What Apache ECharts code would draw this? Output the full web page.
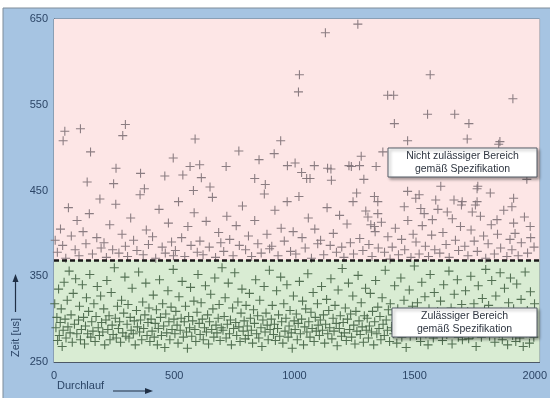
<!DOCTYPE html>
<html>
<head>
<meta charset="utf-8">
<script src="https://cdn.jsdelivr.net/npm/echarts@6/dist/echarts.min.js"></script>
<style>html,body{margin:0;padding:0;background:#fff}#c{width:550px;height:398px}</style>
</head>
<body>
<div id="c"></div>
<script>
// ---- data ----
const xTicks = [0, 500, 1000, 1500, 2000];
const yTicks = [250, 350, 450, 550, 650];
const threshold = 369; // Spezifikationsgrenze [us]

// Durchlauf / Zeit pairs inside specification
const pointsInSpec = [
[3,318],[8,290],[12,302],[15,275],[19,335],[22,281],[26,296],[30,312],[34,268],[38,287],[42,343],[46,300],[50,278],[55,322],[58,291],[63,356],[67,284],[71,305],[76,273],[80,330],[85,294],[90,347],[95,283],
[102,299],[106,315],[110,276],[114,288],[118,340],[123,302],[127,271],[131,292],[135,325],[140,283],[144,309],[149,352],[153,279],[157,297],[162,286],[166,318],[171,274],[175,303],[180,338],[184,290],[189,281],[194,327],[198,296],
[203,285],[207,312],[211,270],[216,299],[220,345],[224,288],[229,304],[233,276],[238,331],[242,293],[246,282],[251,360],[255,301],[259,278],[264,315],[268,289],[273,297],[277,273],[281,322],[286,284],[290,307],[295,349],[299,280],
[304,294],[308,317],[312,278],[317,302],[321,287],[325,336],[330,283],[334,298],[338,270],[343,310],[347,291],[352,355],[356,285],[360,299],[365,276],[369,320],[373,289],[378,305],[382,342],[387,281],[391,296],[395,313],[399,274],
[404,300],[408,286],[413,328],[417,279],[421,295],[426,311],[430,270],[434,289],[439,346],[443,302],[447,281],[452,318],[456,292],[461,267],[465,306],[469,284],[474,333],[478,297],[482,276],[487,314],[491,288],[496,358],[499,300],
[503,283],[507,309],[512,293],[516,272],[520,326],[525,287],[529,301],[533,344],[538,279],[542,297],[547,315],[551,285],[555,266],[560,303],[564,290],[568,337],[573,280],[577,298],[582,321],[586,288],[590,274],[595,308],[599,352],
[604,295],[608,282],[612,319],[617,300],[621,276],[626,290],[630,339],[634,285],[639,305],[643,271],[647,297],[652,329],[656,288],[661,312],[665,279],[669,348],[674,293],[678,284],[683,301],[687,317],[691,275],[696,290],[699,360],
[703,287],[708,303],[712,325],[716,278],[721,294],[725,342],[730,283],[734,299],[738,270],[743,313],[747,289],[752,354],[756,296],[760,281],[765,320],[769,291],[774,274],[778,307],[782,335],[787,286],[791,298],[796,277],[799,316],
[804,292],[808,281],[813,330],[817,301],[821,287],[826,272],[830,311],[834,295],[839,346],[843,283],[847,304],[852,278],[856,322],[861,290],[865,268],[869,299],[874,338],[878,285],[882,307],[887,293],[891,276],[896,357],[899,288],
[904,300],[908,316],[913,282],[917,294],[921,275],[926,333],[930,289],[934,305],[939,280],[943,349],[947,297],[952,272],[956,318],[961,286],[965,301],[969,340],[974,279],[978,292],[982,310],[987,284],[991,266],[996,327],[999,298],
[1003,288],[1008,306],[1012,276],[1016,295],[1021,344],[1025,283],[1030,300],[1034,321],[1038,270],[1043,291],[1047,312],[1052,285],[1056,353],[1060,297],[1065,279],[1069,308],[1074,289],[1078,331],[1082,274],[1087,302],[1091,286],[1096,318],[1099,293],
[1104,281],[1108,299],[1113,338],[1117,287],[1121,305],[1126,272],[1130,294],[1134,323],[1139,283],[1143,310],[1147,290],[1152,347],[1156,277],[1161,301],[1165,286],[1169,316],[1174,295],[1178,269],[1182,334],[1187,289],[1191,304],[1196,280],[1199,359],
[1203,296],[1208,284],[1212,313],[1216,275],[1221,300],[1225,342],[1230,288],[1234,306],[1238,279],[1243,327],[1247,293],[1252,271],[1256,309],[1260,286],[1265,351],[1269,298],[1274,282],[1278,319],[1282,291],[1287,273],[1291,304],[1296,336],[1299,287],
[1303,301],[1308,278],[1312,292],[1316,330],[1321,285],[1325,309],[1330,270],[1334,297],[1338,345],[1343,283],[1347,314],[1352,289],[1356,303],[1360,276],[1365,325],[1369,294],[1374,281],[1378,357],[1382,299],[1387,287],[1391,311],[1396,274],[1399,318],
[1404,290],[1408,305],[1413,283],[1417,339],[1421,296],[1426,272],[1430,312],[1434,288],[1439,301],[1443,348],[1447,279],[1452,294],[1456,322],[1461,285],[1465,267],[1469,307],[1474,291],[1478,334],[1482,280],[1487,299],[1491,315],[1496,286],[1499,362],
[1503,297],[1508,281],[1512,319],[1516,290],[1521,306],[1525,274],[1530,343],[1534,288],[1538,300],[1543,326],[1547,283],[1552,295],[1556,270],[1560,312],[1565,352],[1569,289],[1574,302],[1578,278],[1582,331],[1587,293],[1591,284],[1596,309],[1599,297],
[1603,286],[1608,321],[1612,299],[1616,275],[1621,340],[1625,291],[1630,307],[1634,282],[1638,296],[1643,356],[1647,287],[1652,313],[1656,271],[1660,300],[1665,329],[1669,285],[1674,295],[1678,346],[1682,279],[1687,304],[1691,290],[1696,317],[1699,276],
[1703,298],[1708,284],[1712,333],[1716,293],[1721,309],[1725,277],[1730,289],[1734,350],[1738,301],[1743,282],[1747,318],[1752,294],[1756,268],[1760,305],[1765,339],[1769,287],[1774,299],[1778,279],[1782,324],[1787,291],[1791,310],[1796,358],[1799,285],
[1803,296],[1808,316],[1812,280],[1816,292],[1821,345],[1825,287],[1830,303],[1834,273],[1838,327],[1843,290],[1847,299],[1852,283],[1856,354],[1860,308],[1865,276],[1869,294],[1874,336],[1878,286],[1882,301],[1887,270],[1891,319],[1896,289],[1899,348],
[1903,293],[1908,281],[1912,312],[1916,298],[1921,274],[1925,341],[1930,287],[1934,305],[1938,278],[1943,323],[1947,291],[1952,268],[1956,300],[1960,355],[1965,284],[1969,310],[1974,295],[1978,272],[1982,332],[1987,289],[1991,302],[1996,279],[1999,318]
];

// Durchlauf / Zeit pairs outside specification
const pointsOutOfSpec = [
[5,392],[14,378],[27,405],[36,386],[49,371],[60,430],[72,397],[88,381],[96,415],
[104,374],[121,402],[133,388],[147,423],[160,376],[178,395],[191,440],[196,383],
[208,389],[218,372],[232,410],[244,381],[257,434],[270,377],[283,399],[297,385],
[306,373],[319,418],[331,392],[345,380],[358,445],[371,375],[384,404],[393,387],
[410,396],[423,371],[437,428],[450,384],[463,377],[476,412],[489,390],[497,374],
[505,380],[518,437],[531,395],[544,373],[557,408],[570,386],[583,424],[596,378],
[607,391],[620,375],[633,414],[646,384],[659,442],[672,372],[685,401],[694,389],
[706,379],[719,420],[731,393],[745,374],[758,409],[771,386],[784,432],[797,381],
[809,397],[822,373],[835,415],[848,388],[862,377],[875,446],[886,399],[897,382],
[906,385],[919,427],[932,374],[945,406],[958,391],[970,437],[984,379],[995,402],
[1006,376],[1019,443],[1032,395],[1045,383],[1058,418],[1071,371],[1085,405],[1097,388],
[1109,392],[1122,375],[1136,430],[1149,386],[1162,400],[1175,378],[1188,421],[1197,384],
[1206,372],[1219,411],[1233,389],[1246,376],[1259,447],[1272,394],[1285,380],[1297,426],
[1310,387],[1323,373],[1336,402],[1349,383],[1362,413],[1375,378],[1389,396],[1398,370],
[1407,384],[1420,406],[1433,375],[1446,393],[1459,381],[1472,415],[1485,372],[1494,399],
[1506,390],[1519,376],[1532,409],[1545,385],[1558,373],[1571,398],[1584,381],[1597,428],
[1605,377],[1618,401],[1631,387],[1644,372],[1657,417],[1670,392],[1683,380],[1695,433],
[1709,385],[1722,374],[1735,404],[1748,391],[1761,379],[1774,420],[1787,397],[1796,371],
[1806,388],[1819,410],[1832,376],[1845,399],[1858,383],[1871,427],[1884,373],[1897,393],
[1905,381],[1918,400],[1931,374],[1944,389],[1957,419],[1970,377],[1983,395],[1997,384],
[45,519],[38,508],[110,522],[152,495],[297,527],[286,514],[587,510],[496,488],[258,476],[360,470],
[138,460],[248,458],[461,467],[536,468],[566,478],[606,480],[613,465],[716,478],[769,496],[853,486],
[835,464],[879,457],[916,493],[943,508],[971,479],[649,454],[580,450],[376,452],
[1264,644],[1129,634],[1021,585],[1017,565],[1565,585],[1388,561],[1413,561],[1909,557],[1416,528],[1554,539],
[1667,539],[1726,528],[1719,510],[1471,508],[1850,504],[1855,507],[1278,490],[1368,495],[1003,482],[1030,471],
[1051,464],[1065,464],[1083,479],[1138,476],[1152,475],[1154,462],[1227,479],[1271,479],[1340,478],[1289,463],
[1609,455],[1763,455],[1967,463],[1237,478],
[1471,449],[1519,445],[1505,441],[1588,439],[1664,439],[1698,437],[1760,452],[1815,447],[1760,437],[1753,433],
[1912,441],[1905,431],[1244,437],[1333,443],[1347,437],[1457,431],[1526,429],[1540,423],[1636,425],[1740,425],
[1574,416],[1306,419],[1347,423],[1318,410],[1333,408],[1691,408],[1912,412],[1981,408],[1843,416]
];

const plusSymbol = 'path://M4.4,0h1.2v4.4h4.4v1.2h-4.4v4.4h-1.2v-4.4h-4.4v-1.2h4.4z';
const labelColor = '#2c4566';
const font = 'Liberation Sans, Arial, sans-serif';
const boxStyle = {fill: '#ffffff', stroke: '#555d66', lineWidth: 1, shadowBlur: 3, shadowOffsetX: 2, shadowOffsetY: 2, shadowColor: 'rgba(0,0,0,0.35)'};

const chart = echarts.init(document.getElementById('c'), null, {renderer: 'canvas'});
chart.setOption({
  animation: false,
  backgroundColor: '#ffffff',
  grid: {left: 54, right: 7, top: 19, bottom: 36, show: true, borderColor: '#6d7a88', borderWidth: 1, backgroundColor: 'transparent'},
  xAxis: {
    type: 'value', min: 0, max: 2020, interval: 500,
    axisLine: {show: true, lineStyle: {color: '#4c5866', width: 1}},
    axisTick: {show: false}, splitLine: {show: false},
    axisLabel: {color: labelColor, fontSize: 11, fontFamily: font, margin: 8,
      formatter: v => (xTicks.indexOf(v) >= 0 ? String(v) : '')}
  },
  yAxis: {
    type: 'value', min: 250, max: 650, interval: 100,
    axisLine: {show: true, lineStyle: {color: '#4c5866', width: 1}},
    axisTick: {show: false}, splitLine: {show: false},
    axisLabel: {color: labelColor, fontSize: 11, fontFamily: font, margin: 6,
      formatter: v => (yTicks.indexOf(v) >= 0 ? String(v) : '')}
  },
  graphic: [
    {type: 'rect', z: -10, shape: {x: 3, y: 8, width: 560, height: 400},
      style: {fill: '#a6c4e2', stroke: '#7f8c99', lineWidth: 1}},
    {type: 'text', left: 57, top: 380, style: {text: 'Durchlauf', fill: labelColor, font: '11px ' + font}},
    {type: 'line', shape: {x1: 113, y1: 391, x2: 146, y2: 391}, style: {stroke: '#1f2f45', lineWidth: 1.2}},
    {type: 'polygon', shape: {points: [[153, 391], [145, 388], [145, 394]]}, style: {fill: '#1f2f45'}},
    {type: 'text', x: 10, y: 357, rotation: Math.PI / 2, style: {text: 'Zeit [us]', fill: labelColor, font: '11px ' + font}},
    {type: 'line', shape: {x1: 15.5, y1: 281, x2: 15.5, y2: 312}, style: {stroke: '#1f2f45', lineWidth: 1.2}},
    {type: 'polygon', shape: {points: [[15.5, 274], [12.5, 282], [18.5, 282]]}, style: {fill: '#1f2f45'}},
    {type: 'rect', z: 50, shape: {x: 388, y: 148, width: 149, height: 29}, style: boxStyle},
    {type: 'text', z: 51, x: 462.5, y: 162.5, style: {text: 'Nicht zulässiger Bereich\ngemäß Spezifikation', fill: '#2e3540', font: '10.5px ' + font, align: 'center', verticalAlign: 'middle', lineHeight: 13}},
    {type: 'rect', z: 50, shape: {x: 392, y: 308, width: 145, height: 29}, style: boxStyle},
    {type: 'text', z: 51, x: 464.5, y: 322.5, style: {text: 'Zulässiger Bereich\ngemäß Spezifikation', fill: '#2e3540', font: '10.5px ' + font, align: 'center', verticalAlign: 'middle', lineHeight: 13}}
  ],
  series: [
    {type: 'line', data: [], z: 1, silent: true,
      markArea: {silent: true, data: [
        [{yAxis: threshold, itemStyle: {color: '#fde6e6'}}, {yAxis: 650}],
        [{yAxis: 250, itemStyle: {color: '#d9ecd3'}}, {yAxis: threshold}]
      ]}},
    {type: 'scatter', name: 'in spec', z: 3, symbol: plusSymbol, symbolSize: 9,
      itemStyle: {color: '#3b5a3c', opacity: 0.85}, data: pointsInSpec},
    {type: 'scatter', name: 'out of spec', z: 3, symbol: plusSymbol, symbolSize: 9,
      itemStyle: {color: '#7e7177', opacity: 0.9}, data: pointsOutOfSpec},
    {type: 'line', data: [], z: 8, silent: true,
      markLine: {silent: true, symbol: 'none', label: {show: false},
        lineStyle: {color: '#1a1a1a', type: [5, 3], width: 2.5},
        data: [{yAxis: threshold}]}}
  ]
});
</script>
</body>
</html>
